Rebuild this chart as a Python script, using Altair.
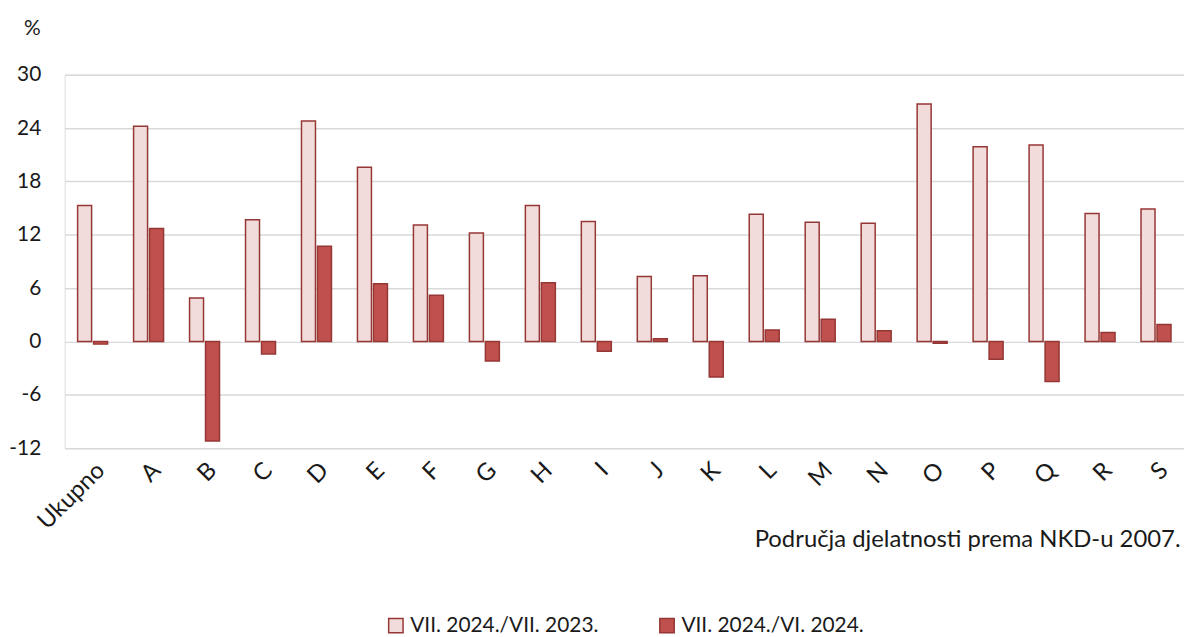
import altair as alt
import pandas as pd

categories = ["Ukupno", "A", "B", "C", "D", "E", "F", "G", "H", "I",
              "J", "K", "L", "M", "N", "O", "P", "Q", "R", "S"]
series_names = ["VII. 2024./VII. 2023.", "VII. 2024./VI. 2024."]
yoy = [15.3, 24.2, 4.9, 13.7, 24.8, 19.6, 13.1, 12.2, 15.3, 13.5,
       7.3, 7.4, 14.3, 13.4, 13.3, 26.7, 21.9, 22.1, 14.4, 14.9]
mom = [-0.3, 12.7, -11.2, -1.4, 10.7, 6.5, 5.2, -2.2, 6.6, -1.1,
       0.3, -4.0, 1.3, 2.5, 1.2, -0.2, -2.0, -4.5, 1.0, 1.9]
y_ticks = [-12, -6, 0, 6, 12, 18, 24, 30]

rows = []
for c, a, b in zip(categories, yoy, mom):
    rows.append({"cat": c, "series": series_names[0], "value": a})
    rows.append({"cat": c, "series": series_names[1], "value": b})
df = pd.DataFrame(rows)

FONT = "Lato"
TXT = "#1A1A1A"
W, H = 1127, 376

chart = alt.Chart(df).mark_bar(stroke="#953735", strokeWidth=1.5).encode(
    x=alt.X("cat:N", sort=categories,
            scale=alt.Scale(paddingInner=0, paddingOuter=0),
            axis=alt.Axis(title="Područja djelatnosti prema NKD-u 2007.",
                          labelAngle=-45, labelFontSize=24, labelFont=FONT,
                          labelColor=TXT, labelPadding=10, ticks=False,
                          domain=False, grid=False,
                          titleFont=FONT, titleFontSize=24, titleFontWeight="normal",
                          titleColor=TXT, titleAnchor="end", titleAlign="right",
                          titleX=W - 4, titleY=92, titleBaseline="middle")),
    xOffset=alt.XOffset("series:N", sort=series_names,
                        scale=alt.Scale(paddingInner=0.125, paddingOuter=0.8125)),
    y=alt.Y("value:Q",
            scale=alt.Scale(domain=[-12, 30], nice=False, zero=False),
            axis=alt.Axis(values=y_ticks, title="%", titleAngle=0,
                          labelExpr="toString(datum.value)",
                          titleFont=FONT, titleFontSize=21, titleFontWeight="normal",
                          titleColor=TXT, titleX=-33, titleY=-46,
                          titleAlign="center", titleBaseline="middle",
                          labelFont=FONT, labelFontSize=21, labelColor=TXT,
                          labelPadding=24, ticks=False, domain=False,
                          grid=True, gridColor="#D9D9D9", gridWidth=1.5)),
    fill=alt.Fill("series:N", sort=series_names,
                  scale=alt.Scale(domain=series_names, range=["#F2DCDB", "#C0504D"]),
                  legend=alt.Legend(title=None, orient="none", direction="horizontal",
                                    legendX=323, legendY=544,
                                    symbolType="square", symbolSize=210,
                                    symbolStrokeColor="#953735", symbolStrokeWidth=1.5,
                                    labelFont=FONT, labelFontSize=21, labelColor=TXT,
                                    labelOffset=4, columnPadding=58, labelLimit=400)),
).properties(
    width=W, height=H,
    autosize=alt.AutoSizeParams(type="none"),
    padding={"left": 57, "top": 65, "right": 0, "bottom": 192},
).configure_view(stroke=None).configure(background="white")

chart.save("out.html", embed_options={"renderer": "svg", "actions": False})
